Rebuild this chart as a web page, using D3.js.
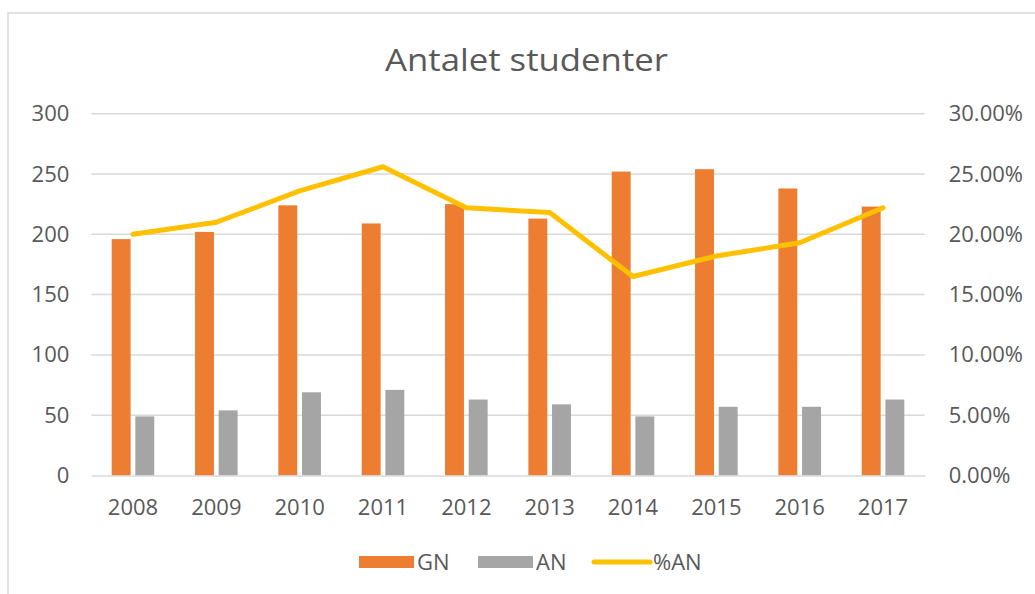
<!DOCTYPE html>
<html>
<head>
<meta charset="utf-8">
<script src="https://cdn.jsdelivr.net/npm/d3@7"></script>
<style>
	body { margin:0; background:#fff; }
	text { font-family:"Open Sans", sans-serif; fill:#595959; }
</style>
</head>
<body>
<svg id="chart" width="1035" height="594"></svg>
<script>
// data
var years = ['2008','2009','2010','2011','2012','2013','2014','2015','2016','2017'];
var gn = [196, 202, 224, 209, 225, 213, 252, 254, 238, 223];
var an = [49, 54, 69, 71, 63, 59, 49, 57, 57, 63];
var pctAn = [0.200, 0.210, 0.236, 0.256, 0.222, 0.218, 0.165, 0.182, 0.193, 0.222];
var leftTicks = [0, 50, 100, 150, 200, 250, 300];
var rightTicks = [0, 0.05, 0.10, 0.15, 0.20, 0.25, 0.30];
var seriesNames = ['GN', 'AN'];
var colors = {GN:'#ED7D31', AN:'#A5A5A5', pct:'#FFC000'};

var svg = d3.select('#chart');

// outer chart frame
svg.append('rect')
	.attr('x', 8).attr('y', 13)
	.attr('width', 1100).attr('height', 700)
	.attr('fill', 'none')
	.attr('stroke', '#d9d9d9')
	.attr('stroke-width', 1.5);

svg.append('text')
	.attr('x', 385).attr('y', 71)
	.attr('textLength', 283)
	.attr('lengthAdjust', 'spacingAndGlyphs')
	.style('font-size', '31px')
	.text('Antalet studenter');

var x0 = d3.scaleBand().domain(years).range([91.3, 924.7]).padding(0);
var x1 = d3.scaleBand().domain(seriesNames).range([-21.3, 21.3]).paddingInner(0.2);
var yL = d3.scaleLinear().domain([0, 300]).range([475.5, 113.7]);
var yR = d3.scaleLinear().domain([0, 0.30]).range([475.5, 113.7]);

// gridlines
svg.append('g').selectAll('line')
	.data(leftTicks.slice(1))
	.join('line')
	.attr('x1', 91.3).attr('x2', 924.7)
	.attr('y1', function(d){ return yL(d); })
	.attr('y2', function(d){ return yL(d); })
	.attr('stroke', '#d9d9d9')
	.attr('stroke-width', 1.5);

// left axis
var axL = svg.append('g')
	.attr('transform', 'translate(91.3,0)')
	.call(d3.axisLeft(yL).tickValues(leftTicks).tickSize(0).tickPadding(22));
axL.select('.domain').remove();
axL.selectAll('text').style('font-size', '22px').attr('fill', '#595959').style('font-family', '"Open Sans", sans-serif');

// right axis
var axR = svg.append('g')
	.attr('transform', 'translate(924.7,0)')
	.call(d3.axisRight(yR).tickValues(rightTicks).tickSize(0).tickPadding(24).tickFormat(d3.format('.2%')));
axR.select('.domain').remove();
axR.selectAll('text').style('font-size', '22px').attr('fill', '#595959').style('font-family', '"Open Sans", sans-serif');

// bars
var rows = years.map(function(y, i){ return {year:y, GN:gn[i], AN:an[i]}; });
svg.append('g').selectAll('g')
	.data(rows)
	.join('g')
	.attr('transform', function(d){ return 'translate(' + (x0(d.year) + x0.bandwidth()/2) + ',0)'; })
	.selectAll('rect')
	.data(function(d){ return seriesNames.map(function(k){ return {key:k, value:d[k]}; }); })
	.join('rect')
	.attr('x', function(d){ return x1(d.key); })
	.attr('width', x1.bandwidth())
	.attr('y', function(d){ return yL(d.value); })
	.attr('height', function(d){ return yL(0) - yL(d.value); })
	.attr('fill', function(d){ return colors[d.key]; });

// x axis
var axX = svg.append('g')
	.attr('transform', 'translate(0,475.5)')
	.call(d3.axisBottom(x0).tickSize(0).tickPadding(24));
axX.select('.domain').attr('stroke', '#d9d9d9').attr('stroke-width', 1.5);
axX.selectAll('text').style('font-size', '22px').attr('fill', '#595959').style('font-family', '"Open Sans", sans-serif');

// % line
var line = d3.line()
	.x(function(d, i){ return x0(years[i]) + x0.bandwidth()/2; })
	.y(function(d){ return yR(d); });
svg.append('path')
	.datum(pctAn)
	.attr('d', line)
	.attr('fill', 'none')
	.attr('stroke', colors.pct)
	.attr('stroke-width', 5)
	.attr('stroke-linecap', 'round')
	.attr('stroke-linejoin', 'round');

// legend
var legend = svg.append('g');
var items = [
	{name:'GN', x:359, type:'rect', color:colors.GN},
	{name:'AN', x:478, type:'rect', color:colors.AN},
	{name:'%AN', x:592, type:'line', color:colors.pct}
];
items.forEach(function(it){
	if (it.type == 'rect'){
		legend.append('rect')
			.attr('x', it.x).attr('y', 556)
			.attr('width', 55).attr('height', 12)
			.attr('fill', it.color);
	} else {
		legend.append('line')
			.attr('x1', it.x + 2).attr('x2', it.x + 58)
			.attr('y1', 562).attr('y2', 562)
			.attr('stroke', it.color)
			.attr('stroke-width', 5)
			.attr('stroke-linecap', 'round');
	}
	legend.append('text')
		.attr('x', it.x + (it.type == 'rect' ? 58 : 61))
		.attr('y', 570)
		.style('font-size', '22px')
		.text(it.name);
});
</script>
</body>
</html>
